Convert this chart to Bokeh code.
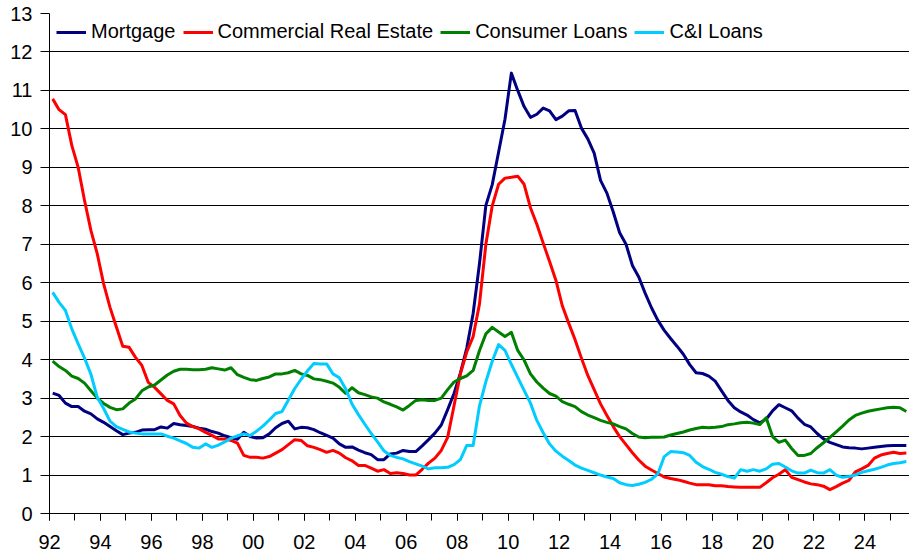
from bokeh.plotting import figure
from bokeh.models import Range1d, FixedTicker, SingleIntervalTicker, Legend, LegendItem
from bokeh.embed import file_html
from bokeh.resources import INLINE

# Quarterly delinquency rates, 1992Q1 .. 2025Q3 (percent)
start_year = 1992
mortgage = [
    3.13, 3.07, 2.87, 2.78, 2.78, 2.66, 2.59, 2.46, 2.37, 2.26, 2.15, 2.05, 2.09, 2.11, 2.17,
    2.18, 2.18, 2.25, 2.22, 2.34, 2.31, 2.29, 2.26, 2.22, 2.19, 2.13, 2.09, 2.02, 1.97, 1.93,
    2.11, 2.00, 1.96, 1.97, 2.07, 2.23, 2.34, 2.40, 2.20, 2.24, 2.23, 2.18, 2.10, 2.03, 1.96,
    1.81, 1.72, 1.73, 1.65, 1.58, 1.53, 1.40, 1.40, 1.55, 1.57, 1.64, 1.61, 1.61, 1.76, 1.92,
    2.09, 2.30, 2.70, 3.12, 3.65, 4.30, 5.20, 6.50, 8.01, 8.55, 9.40, 10.25, 11.45, 11.00, 10.58,
    10.30, 10.38, 10.54, 10.47, 10.24, 10.33, 10.47, 10.48, 10.02, 9.74, 9.37, 8.66, 8.33, 7.84, 7.30,
    7.00, 6.45, 6.15, 5.73, 5.35, 5.02, 4.76, 4.55, 4.35, 4.14, 3.87, 3.66, 3.64, 3.57, 3.44,
    3.19, 2.94, 2.75, 2.64, 2.56, 2.44, 2.36, 2.45, 2.67, 2.83, 2.75, 2.67, 2.48, 2.32, 2.25,
    2.08, 1.94, 1.85, 1.79, 1.73, 1.71, 1.70, 1.68, 1.70, 1.72, 1.74, 1.76, 1.77, 1.77, 1.77,
]
commercial_real_estate = [
    10.78, 10.50, 10.37, 9.57, 9.00, 8.14, 7.36, 6.75, 5.97, 5.36, 4.85, 4.35, 4.32, 4.06, 3.85,
    3.41, 3.28, 3.11, 2.94, 2.85, 2.55, 2.35, 2.26, 2.20, 2.11, 2.03, 1.94, 1.94, 1.90, 1.83,
    1.51, 1.46, 1.46, 1.44, 1.48, 1.57, 1.66, 1.79, 1.92, 1.90, 1.76, 1.72, 1.66, 1.59, 1.64,
    1.57, 1.45, 1.37, 1.25, 1.25, 1.18, 1.10, 1.14, 1.04, 1.06, 1.04, 1.00, 1.00, 1.15, 1.31,
    1.44, 1.64, 1.98, 2.80, 3.63, 4.20, 4.60, 5.45, 7.00, 8.00, 8.56, 8.72, 8.74, 8.77, 8.56,
    7.95, 7.52, 7.03, 6.55, 6.06, 5.40, 4.95, 4.52, 4.04, 3.59, 3.22, 2.85, 2.55, 2.26, 2.00,
    1.79, 1.58, 1.39, 1.23, 1.13, 1.04, 0.95, 0.91, 0.88, 0.84, 0.79, 0.75, 0.75, 0.75, 0.72,
    0.72, 0.70, 0.69, 0.68, 0.68, 0.68, 0.68, 0.80, 0.93, 1.02, 1.14, 0.94, 0.88, 0.82, 0.77,
    0.75, 0.71, 0.62, 0.70, 0.79, 0.86, 1.08, 1.16, 1.25, 1.44, 1.52, 1.56, 1.59, 1.56, 1.57,
]
consumer_loans = [
    3.96, 3.82, 3.72, 3.57, 3.51, 3.39, 3.19, 3.00, 2.86, 2.76, 2.70, 2.72, 2.87, 2.98, 3.19,
    3.29, 3.34, 3.47, 3.60, 3.70, 3.75, 3.75, 3.74, 3.74, 3.75, 3.79, 3.76, 3.73, 3.79, 3.61,
    3.54, 3.48, 3.46, 3.51, 3.55, 3.63, 3.63, 3.66, 3.72, 3.63, 3.59, 3.50, 3.48, 3.44, 3.39,
    3.28, 3.12, 3.27, 3.14, 3.09, 3.03, 3.00, 2.90, 2.84, 2.77, 2.69, 2.81, 2.94, 2.96, 2.94,
    2.94, 3.00, 3.22, 3.42, 3.51, 3.58, 3.72, 4.24, 4.67, 4.84, 4.72, 4.60, 4.71, 4.24, 3.99,
    3.63, 3.42, 3.26, 3.12, 3.05, 2.91, 2.84, 2.78, 2.65, 2.56, 2.49, 2.42, 2.37, 2.33, 2.26,
    2.20, 2.08, 1.99, 1.97, 1.98, 1.98, 1.99, 2.04, 2.08, 2.12, 2.17, 2.21, 2.24, 2.23, 2.24,
    2.26, 2.31, 2.33, 2.36, 2.37, 2.35, 2.31, 2.49, 2.00, 1.85, 1.91, 1.69, 1.51, 1.51, 1.56,
    1.71, 1.84, 1.98, 2.12, 2.27, 2.43, 2.55, 2.61, 2.66, 2.69, 2.72, 2.75, 2.76, 2.75, 2.65,
]
ci_loans = [
    5.75, 5.49, 5.28, 4.80, 4.41, 4.04, 3.62, 3.02, 2.73, 2.40, 2.26, 2.19, 2.12, 2.09, 2.07,
    2.07, 2.07, 2.07, 2.01, 1.96, 1.89, 1.82, 1.72, 1.70, 1.81, 1.72, 1.78, 1.86, 1.96, 2.02,
    2.07, 2.03, 2.14, 2.27, 2.43, 2.60, 2.65, 2.95, 3.25, 3.49, 3.71, 3.90, 3.89, 3.89, 3.63,
    3.53, 3.24, 2.84, 2.57, 2.32, 2.08, 1.86, 1.63, 1.51, 1.46, 1.42, 1.35, 1.29, 1.23, 1.16,
    1.19, 1.19, 1.20, 1.27, 1.40, 1.77, 1.77, 2.80, 3.43, 3.96, 4.39, 4.24, 3.88, 3.54, 3.20,
    2.87, 2.42, 2.10, 1.81, 1.62, 1.49, 1.38, 1.26, 1.18, 1.12, 1.06, 1.00, 0.95, 0.91, 0.80,
    0.75, 0.73, 0.76, 0.81, 0.89, 1.03, 1.48, 1.61, 1.60, 1.58, 1.51, 1.33, 1.22, 1.15, 1.07,
    1.02, 0.96, 0.92, 1.14, 1.10, 1.14, 1.10, 1.16, 1.28, 1.30, 1.21, 1.11, 1.05, 1.05, 1.13,
    1.06, 1.05, 1.14, 1.00, 0.94, 0.96, 1.00, 1.07, 1.11, 1.15, 1.20, 1.26, 1.30, 1.32, 1.35,
]
series_names = ["Mortgage", "Commercial Real Estate", "Consumer Loans", "C&I Loans"]
series_colors = ["#000080", "#FF0000", "#008000", "#00CCFF"]
tick_years = list(range(1992, 2025, 2))
tick_labels = ["92", "94", "96", "98", "00", "02", "04", "06", "08", "10",
               "12", "14", "16", "18", "20", "22", "24"]
minor_years = list(range(1992, 2026))

n = len(mortgage)
# each quarter's point sits in the middle of its quarter
dates = [start_year + (i + 0.5) / 4 for i in range(n)]
x_end = start_year + n / 4

FONT = "Liberation Sans"

p = figure(width=909, height=558, output_backend="svg", toolbar_location=None,
           x_range=Range1d(start_year, x_end), y_range=Range1d(0, 13),
           min_border_left=49, min_border_right=0, min_border_top=13, min_border_bottom=45)
p.outline_line_color = None
p.background_fill_color = "white"
p.border_fill_color = "white"

renderers = []
for vals, name, col in zip([mortgage, commercial_real_estate, consumer_loans, ci_loans],
                           series_names, series_colors):
    r = p.line(dates, vals, line_color=col, line_width=3, line_join="round")
    renderers.append((name, r))

# axes
p.xaxis.ticker = FixedTicker(ticks=tick_years, minor_ticks=minor_years)
p.xaxis.major_label_overrides = {y: l for y, l in zip(tick_years, tick_labels)}
p.xaxis.major_tick_out = 7
p.xaxis.major_tick_in = 0
p.xaxis.minor_tick_out = 7
p.xaxis.minor_tick_in = 0
p.xaxis.major_label_standoff = 14
p.yaxis.ticker = SingleIntervalTicker(interval=1, num_minor_ticks=0)
p.yaxis.major_tick_out = 9
p.yaxis.major_tick_in = 0
p.yaxis.major_label_standoff = 8
for ax in (p.xaxis, p.yaxis):
    ax.axis_line_color = "black"
    ax.axis_line_width = 1
    ax.major_tick_line_color = "black"
    ax.minor_tick_line_color = "black"
    ax.major_label_text_font = FONT
    ax.major_label_text_font_size = "20px"
    ax.major_label_text_color = "black"
p.yaxis.minor_tick_line_color = None

p.xgrid.grid_line_color = None
p.ygrid.ticker = SingleIntervalTicker(interval=1, num_minor_ticks=0)
p.ygrid.grid_line_color = "black"
p.ygrid.grid_line_width = 1

legend = Legend(items=[LegendItem(label=nm, renderers=[r]) for nm, r in renderers],
                location="top_left", orientation="horizontal")
legend.label_text_font = FONT
legend.label_text_font_size = "20px"
legend.label_text_color = "black"
legend.glyph_width = 30
legend.label_standoff = 5
legend.spacing = 7
legend.padding = 8
legend.margin = 7
legend.border_line_color = None
legend.background_fill_alpha = 0
p.add_layout(legend)

open("out.html", "w").write(file_html(p, INLINE))
